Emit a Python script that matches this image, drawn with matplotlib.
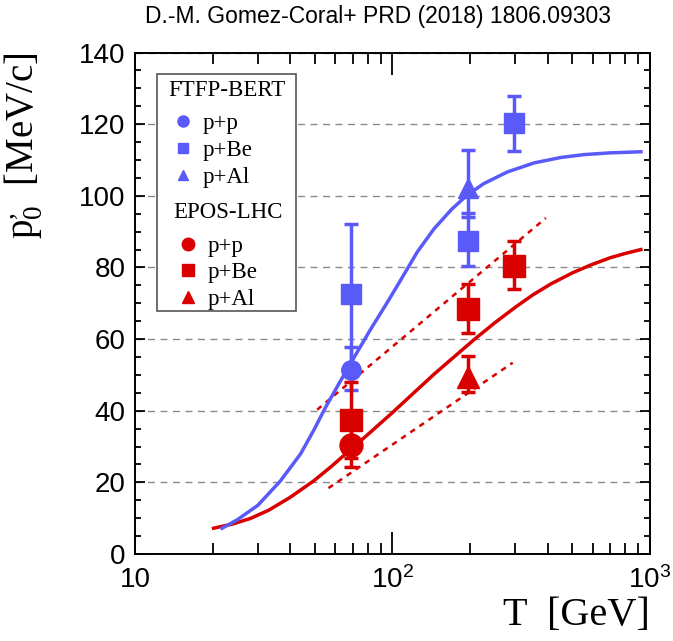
import numpy as np
import matplotlib
matplotlib.use('Agg')
import matplotlib.pyplot as plt
from matplotlib.lines import Line2D
from matplotlib.patches import Rectangle
from matplotlib.ticker import MultipleLocator, NullFormatter, LogLocator

plt.rcParams['font.family'] = ['Liberation Sans', 'DejaVu Sans']
plt.rcParams['mathtext.default'] = 'regular'

blue = '#5a5af8'
red = '#d90000'

# FTFP-BERT points (T in GeV, p0' in MeV/c, err down, err up)
ftfp_pp_T = [69]
ftfp_pp_y = [51.5]
ftfp_pp_err = [[5.6], [6.3]]
ftfp_pbe_T = [69, 196, 296]
ftfp_pbe_y = [72.5, 87.5, 120.2]
ftfp_pbe_err = [[19.5, 7.1, 7.8], [19.5, 7.7, 7.6]]
ftfp_pal_T = [196]
ftfp_pal_y = [102.3]
ftfp_pal_err = [[8.2], [10.4]]

# EPOS-LHC points
epos_pp_T = [69]
epos_pp_y = [30.3]
epos_pp_err = [[6.1], [6.0]]
epos_pbe_T = [69, 196, 296]
epos_pbe_y = [37.3, 68.5, 80.5]
epos_pbe_err = [[10.6, 6.7, 6.5], [10.6, 6.9, 6.9]]
epos_pal_T = [196]
epos_pal_y = [49.5]
epos_pal_err = [[4.3], [5.9]]

# model curves
ftfp_curve_T = [21.8, 25, 30, 36.7, 44, 49.4, 55, 62, 69, 82, 95, 107, 125, 145, 170, 195,
                226, 280, 355, 450, 553, 700, 922]
ftfp_curve_y = [7.2, 9.6, 13.6, 20.4, 28, 34.5, 41, 47.6, 53.4, 62.6, 70, 76.2, 84.4, 90.8, 96.3, 100.2,
                103.4, 106.7, 109.2, 110.7, 111.5, 112.0, 112.3]
epos_curve_T = [20.2, 24, 28, 33, 40, 49.4, 58, 66.6, 80, 100, 121, 145, 170, 207, 250,
                300, 350, 412, 500, 589, 700, 800, 922]
epos_curve_y = [7.2, 8.4, 9.9, 12.2, 15.8, 20.4, 24.5, 28.3, 33.3, 39.5, 45, 50.2, 54.5, 59.8, 64.6,
                68.9, 72.3, 75.4, 78.5, 80.7, 82.7, 83.9, 85.0]

# dashed bands
band_hi_T = [51, 394]
band_hi_y = [40.3, 93.8]
band_lo_T = [56.4, 293]
band_lo_y = [18.4, 53.4]

fig = plt.figure(figsize=(6.73, 6.41), dpi=100)
ax = fig.add_axes([0.2006, 0.1357, 0.7652, 0.7823])
ax.set_xscale('log')
ax.set_xlim(10, 1000)
ax.set_ylim(0, 140)

ax.set_axisbelow(True)
ax.yaxis.grid(True, ls=(0, (5, 4)), color='#8a8a8a', lw=1.0)

ax.plot(band_hi_T, band_hi_y, color=red, lw=1.8, ls=(0, (2.2, 2.2)), zorder=2)
ax.plot(band_lo_T, band_lo_y, color=red, lw=1.8, ls=(0, (2.2, 2.2)), zorder=2)
ax.plot(epos_curve_T, epos_curve_y, color=red, lw=2.5, zorder=2)
ax.plot(ftfp_curve_T, ftfp_curve_y, color=blue, lw=2.5, zorder=2)

eb = dict(ls='none', elinewidth=2.5, capsize=5, capthick=2.5, zorder=3)
ax.errorbar(ftfp_pbe_T, ftfp_pbe_y, yerr=ftfp_pbe_err, fmt='s', ms=14, color=blue, **eb)
ax.errorbar(ftfp_pp_T, ftfp_pp_y, yerr=ftfp_pp_err, fmt='o', ms=14, color=blue, **eb)
ax.errorbar(ftfp_pal_T, ftfp_pal_y, yerr=ftfp_pal_err, fmt='^', ms=15, color=blue, **eb)
ax.errorbar(epos_pbe_T, epos_pbe_y, yerr=epos_pbe_err, fmt='s', ms=16.5, color=red, **eb)
ax.errorbar(epos_pp_T, epos_pp_y, yerr=epos_pp_err, fmt='o', ms=16.5, color=red, **eb)
ax.errorbar(epos_pal_T, epos_pal_y, yerr=epos_pal_err, fmt='^', ms=16.5, color=red, **eb)

# ticks
ax.set_xticks([10, 100, 1000], ['10', '$10^{2}$', '$10^{3}$'])
ax.xaxis.set_minor_locator(LogLocator(base=10, subs=np.arange(2, 10)))
ax.xaxis.set_minor_formatter(NullFormatter())
ax.yaxis.set_major_locator(MultipleLocator(20))
ax.yaxis.set_minor_locator(MultipleLocator(5))
ax.tick_params(which='both', direction='in', top=True, right=True, width=1.3, labelsize=20)
ax.tick_params(axis='x', which='major', length=16, pad=9)
ax.tick_params(axis='x', which='minor', length=8)
ax.tick_params(axis='y', which='major', length=7, pad=7)
ax.tick_params(axis='y', which='minor', length=4.5)
for s in ax.spines.values():
    s.set_linewidth(1.4)

serif = ['Liberation Serif', 'DejaVu Serif']
ax.set_xlabel('T  [GeV]', loc='right', fontsize=29, family=serif, labelpad=2)
ax.set_ylabel("$p^{,}_{0}$  [MeV/c]", loc='top', fontsize=28, family=serif)
ax.yaxis.set_label_coords(-0.175, 1.0)

fig.text(0.562, 0.974, 'D.-M. Gomez-Coral+ PRD (2018) 1806.09303', ha='center', va='center', fontsize=16.5)

# legend box
ax.add_patch(Rectangle((0.0427, 0.484), 0.27, 0.474, transform=ax.transAxes,
                       facecolor='white', edgecolor='#555555', lw=1.2, zorder=4))

def handles(c, ms):
    return [Line2D([], [], ls='none', marker='o', color=c, ms=ms),
            Line2D([], [], ls='none', marker='s', color=c, ms=ms - 1),
            Line2D([], [], ls='none', marker='^', color=c, ms=ms - 1)]

labels = ['p+p', 'p+Be', 'p+Al']
leg_kw = dict(loc='upper left', frameon=False, title_fontsize=16.5,
              handlelength=1.3, handletextpad=0.2, labelspacing=0.25,
              borderpad=0, borderaxespad=0, alignment='left')
leg1 = ax.legend(handles(blue, 8), labels, title='FTFP-BERT',
                 bbox_to_anchor=(0.064, 0.946), prop={'family': serif, 'size': 16.5}, **leg_kw)
leg2 = ax.legend(handles(red, 9), labels, title='EPOS-LHC',
                 bbox_to_anchor=(0.074, 0.702), prop={'family': serif, 'size': 16.5}, **leg_kw)
for leg in (leg1, leg2):
    leg.get_title().set_family(serif)
    leg.set_zorder(5)
    leg._legend_box.sep = 9  # extra gap under the heading
ax.add_artist(leg1)

fig.savefig('out.png', dpi=100)
